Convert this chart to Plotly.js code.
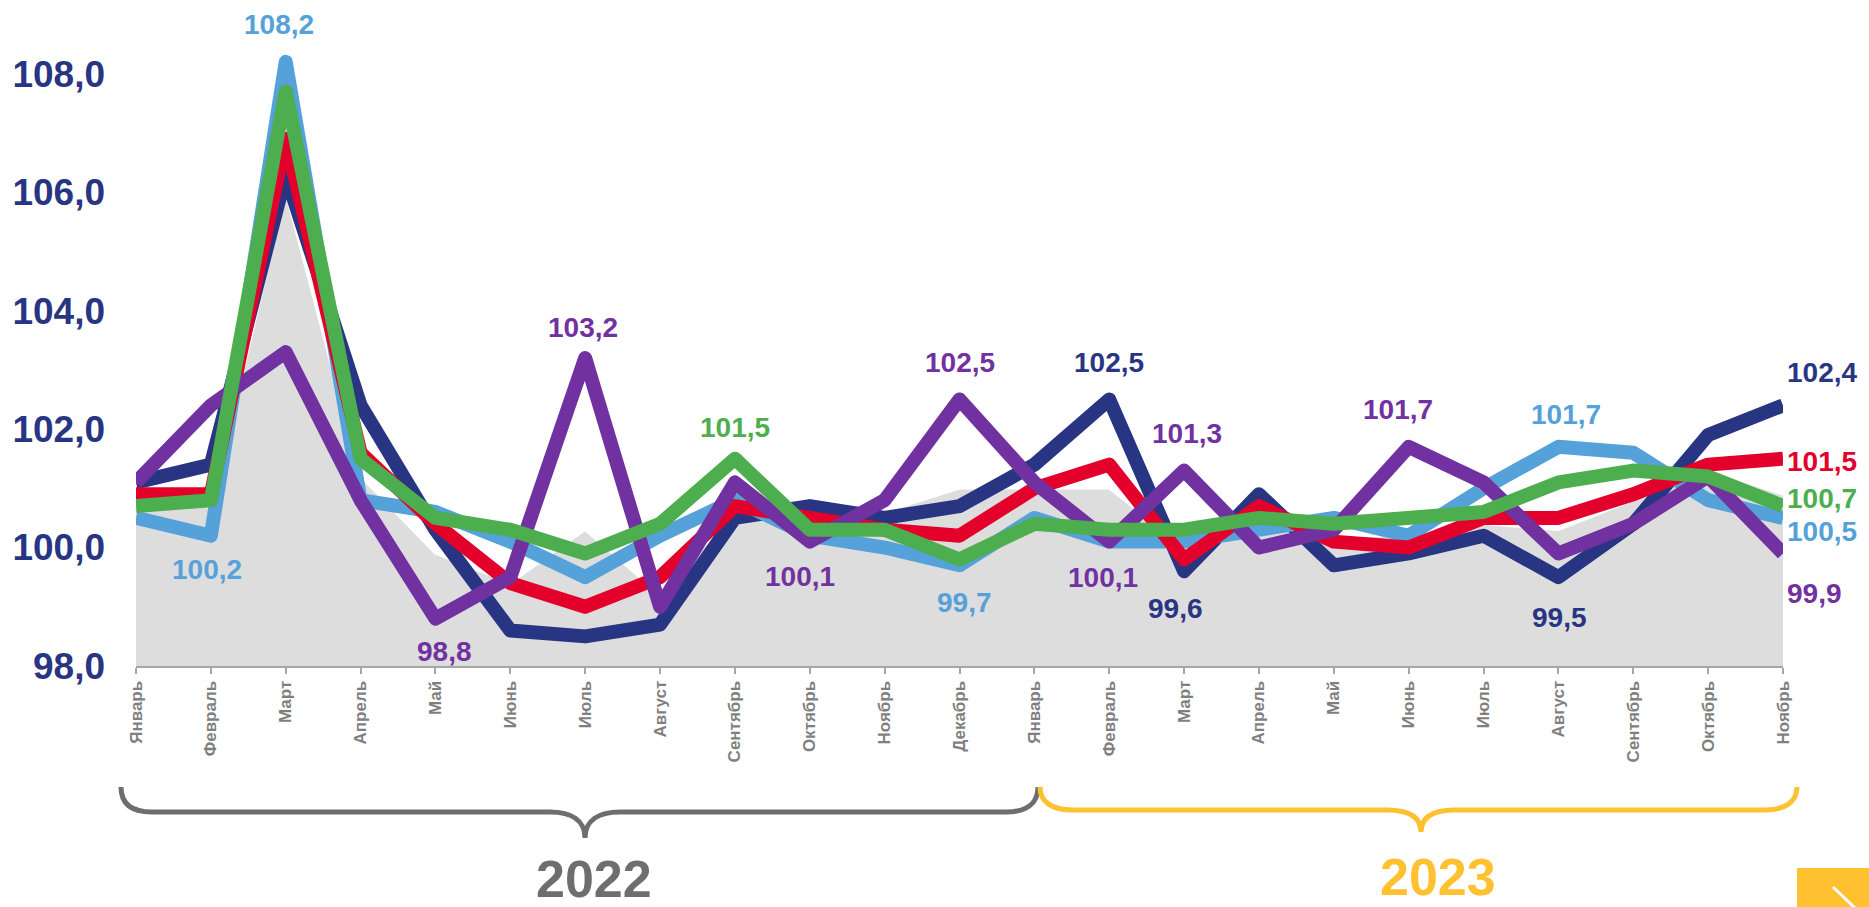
<!DOCTYPE html>
<html>
<head>
<meta charset="utf-8">
<script src="https://cdn.plot.ly/plotly-3.0.1.min.js"></script>
<style>
  html, body { margin: 0; padding: 0; background: #ffffff; }
  #chart { width: 1869px; height: 907px; }
  .scatterlayer .js-line { stroke-linejoin: round; }
</style>
</head>
<body>
<div id="chart"></div>
<script>
// ---------- DATA ----------
const months = ['Январь','Февраль','Март','Апрель','Май','Июнь','Июль','Август','Сентябрь','Октябрь','Ноябрь','Декабрь',
                'Январь','Февраль','Март','Апрель','Май','Июнь','Июль','Август','Сентябрь','Октябрь','Ноябрь'];
const grayArea = [100.7, 100.7, 106.0, 101.2, 99.9, 99.4, 100.3, 99.2, 100.6, 100.4, 100.6, 101.0,
                  101.0, 101.0, 100.0, 100.4, 100.2, 100.2, 100.4, 100.3, 100.8, 101.3, 100.9];
const navySeries = [101.1, 101.4, 106.3, 102.4, 100.3, 98.6, 98.5, 98.7, 100.5, 100.7, 100.5, 100.7,
                    101.4, 102.5, 99.6, 100.9, 99.7, 99.9, 100.2, 99.5, 100.4, 101.9, 102.4];
const blueSeries = [100.5, 100.2, 108.2, 100.8, 100.6, 100.1, 99.5, 100.2, 100.8, 100.2, 100.0, 99.7,
                    100.5, 100.1, 100.1, 100.3, 100.5, 100.2, 101.0, 101.7, 101.6, 100.8, 100.5];
const redSeries = [100.9, 100.9, 106.9, 101.6, 100.4, 99.4, 99.0, 99.5, 100.7, 100.5, 100.3, 100.2,
                   101.0, 101.4, 99.8, 100.7, 100.1, 100.0, 100.5, 100.5, 100.9, 101.4, 101.5];
const purpleSeries = [101.1, 102.4, 103.3, 100.8, 98.8, 99.5, 103.2, 99.0, 101.1, 100.1, 100.8, 102.5,
                      101.1, 100.1, 101.3, 100.0, 100.3, 101.7, 101.1, 99.9, 100.4, 101.2, 99.9];
const greenSeries = [100.7, 100.8, 107.7, 101.5, 100.5, 100.3, 99.9, 100.4, 101.5, 100.3, 100.3, 99.8,
                     100.4, 100.3, 100.3, 100.5, 100.4, 100.5, 100.6, 101.1, 101.3, 101.2, 100.7];
const yTicks = [98, 100, 102, 104, 106, 108];
const years = ['2022', '2023'];

// ---------- STYLE ----------
const W = 1869, H = 907, L = 136, R = 86, T = 30, B = 241;
const PX_PER_UNIT = 59.23;
const yMax = 98 + (H - T - B) / PX_PER_UNIT;
const colors = { navy: '#283583', blue: '#55A1DA', red: '#E3002B', purple: '#7131A0', green: '#4DAE4F' };
const series = { navy: navySeries, blue: blueSeries, red: redSeries, purple: purpleSeries, green: greenSeries };
const drawOrder = ['navy', 'blue', 'red', 'purple', 'green'];
const FONT = 'Liberation Sans, Arial, sans-serif';

const xIdx = months.map((m, i) => i);
const fmt = v => v.toFixed(1).replace('.', ',');

const px2x = px => (px - L) / (W - L - R);
const px2y = py => (H - B - py) / (H - T - B);

const traces = [{
  x: xIdx, y: grayArea, type: 'scatter', mode: 'lines',
  fill: 'tozeroy', fillcolor: '#DDDDDD',
  line: { color: '#ffffff', width: 2.5 }, hoverinfo: 'skip', showlegend: false
}];
drawOrder.forEach(k => traces.push({
  x: xIdx, y: series[k], type: 'scatter', mode: 'lines',
  line: { color: colors[k], width: 14 }, hoverinfo: 'skip', showlegend: false
}));

// label placements: [series, index, xshift, yshift]
const labelSpecs = [
  ['blue', 2, -7, 37], ['blue', 1, -4, -34], ['purple', 4, 9, -33], ['purple', 6, -2, 31],
  ['green', 8, 0, 31], ['purple', 9, -10, -35], ['purple', 11, 0, 37], ['blue', 11, 5, -37],
  ['navy', 13, 0, 37], ['purple', 13, -6, -36], ['purple', 14, 3, 37], ['navy', 14, -9, -37],
  ['purple', 17, -11, 37], ['blue', 19, 8, 32], ['navy', 19, 1, -40]
];
const endSpecs = [['navy', 33], ['red', -3], ['green', 8], ['blue', -14], ['purple', -40]];

const annotations = [];
labelSpecs.forEach(([k, i, dx, dy]) => annotations.push({
  x: i, y: series[k][i], xref: 'x', yref: 'y', text: '<b>' + fmt(series[k][i]) + '</b>',
  showarrow: false, xshift: dx, yshift: dy, xanchor: 'center', yanchor: 'middle',
  font: { family: FONT, size: 28, color: colors[k] }
}));
const last = months.length - 1;
endSpecs.forEach(([k, dy]) => annotations.push({
  x: last, y: series[k][last], xref: 'x', yref: 'y', text: '<b>' + fmt(series[k][last]) + '</b>',
  showarrow: false, xshift: 2, yshift: dy, xanchor: 'left', yanchor: 'middle',
  font: { family: FONT, size: 28, color: colors[k] }
}));
annotations.push({
  x: px2x(594), y: px2y(879), xref: 'paper', yref: 'paper', text: '<b>' + years[0] + '</b>',
  showarrow: false, xanchor: 'center', yanchor: 'middle',
  font: { family: FONT, size: 52, color: '#6E6E6E' }
});
annotations.push({
  x: px2x(1438), y: px2y(877), xref: 'paper', yref: 'paper', text: '<b>' + years[1] + '</b>',
  showarrow: false, xanchor: 'center', yanchor: 'middle',
  font: { family: FONT, size: 52, color: '#FFC12F' }
});

function pathFromPx(cmds) {
  return cmds.map(c => {
    const op = c[0];
    const pts = [];
    for (let j = 1; j < c.length; j += 2) pts.push(px2x(c[j]).toFixed(5) + ',' + px2y(c[j + 1]).toFixed(5));
    return op + ' ' + pts.join(' ');
  }).join(' ');
}
const grayBrace = pathFromPx([
  ['M', 121, 787], ['C', 121, 804, 132, 812, 152, 812], ['L', 550, 812],
  ['C', 571, 812, 585, 820, 585, 838], ['C', 585, 820, 599, 812, 620, 812], ['L', 1006, 812],
  ['C', 1026, 812, 1038, 804, 1038, 787]
]);
const yellowBrace = pathFromPx([
  ['M', 1040, 787], ['C', 1040, 802, 1052, 810, 1072, 810], ['L', 1387, 810],
  ['C', 1407, 810, 1421, 816, 1421, 832], ['C', 1421, 816, 1435, 810, 1455, 810], ['L', 1765, 810],
  ['C', 1785, 810, 1797, 802, 1797, 787]
]);

const shapes = [
  { type: 'path', xref: 'paper', yref: 'paper', path: grayBrace, line: { color: '#6E6E6E', width: 5 } },
  { type: 'path', xref: 'paper', yref: 'paper', path: yellowBrace, line: { color: '#FFC12F', width: 5 } },
  { type: 'rect', xref: 'paper', yref: 'paper', x0: px2x(1797), x1: px2x(1875), y0: px2y(868), y1: px2y(912),
    fillcolor: '#FFC12F', line: { width: 0 } },
  { type: 'line', xref: 'paper', yref: 'paper', x0: px2x(1833), y0: px2y(887), x1: px2x(1856), y1: px2y(909),
    line: { color: '#ffffff', width: 3 } }
];

const layout = {
  width: W, height: H,
  margin: { l: L, r: R, t: T, b: B, pad: 0 },
  paper_bgcolor: '#ffffff', plot_bgcolor: '#ffffff',
  separators: ', ',
  showlegend: false,
  font: { family: FONT },
  xaxis: {
    range: [0, last], tickmode: 'array', tickvals: xIdx, ticktext: months,
    tickangle: -90, showgrid: false, zeroline: false,
    showline: true, linecolor: '#A6A6A6', linewidth: 2,
    ticks: 'outside', ticklen: 6, tickwidth: 2, tickcolor: '#A6A6A6',
    tickfont: { family: FONT, size: 17, color: '#7F7F7F', weight: 'bold' }
  },
  yaxis: {
    range: [98, yMax], tickmode: 'array', tickvals: yTicks, tickformat: '.1f',
    showgrid: false, zeroline: false, showline: false, ticks: '',
    ticklabelstandoff: 30,
    tickfont: { family: FONT, size: 37, color: '#283583', weight: 'bold' }
  },
  annotations: annotations,
  shapes: shapes
};

Plotly.newPlot('chart', traces, layout, { staticPlot: true, displayModeBar: false });
</script>
</body>
</html>
